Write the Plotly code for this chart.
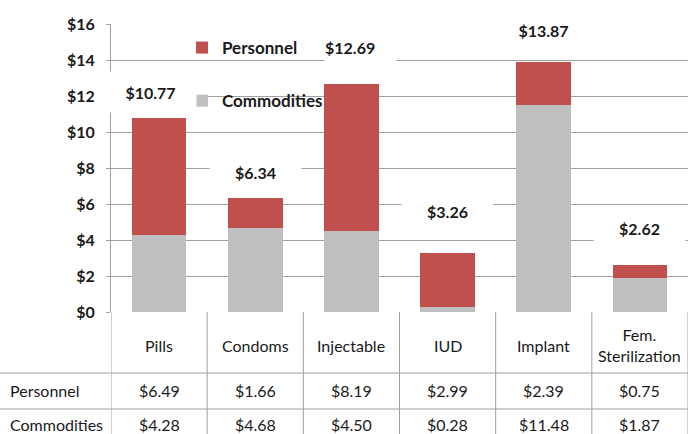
import plotly.graph_objects as go

# ---------------- data ----------------
categories = ["Pills", "Condoms", "Injectable", "IUD", "Implant", "Fem. Sterilization"]
personnel = [6.49, 1.66, 8.19, 2.99, 2.39, 0.75]
commodities = [4.28, 4.68, 4.50, 0.28, 11.48, 1.87]
totals = [10.77, 6.34, 12.69, 3.26, 13.87, 2.62]
tick_vals = [0, 2, 4, 6, 8, 10, 12, 14, 16]
tick_text = ["$0", "$2", "$4", "$6", "$8", "$10", "$12", "$14", "$16"]
row_names = ["Personnel", "Commodities"]

# ---------------- layout constants ----------------
W, H = 688, 434
ML, MT = 111, 24
PLOT_W = W - ML
PLOT_H = H - MT
TABLE_H = 122
split = TABLE_H / PLOT_H
label_y = [12.22, 7.78, 14.72, 5.61, 15.67, 4.67]
label_dx = [-9, 0, 9.5, 0, 0, 0]
label_w = [91, 91, 71, 91, 91, 91]
label_align = ["center", "center", "left", "center", "center", "center"]
FONT = "Lato"
RED = "#C0504D"
GREY = "#BFBFBF"
LINE = "#A0A0A0"
TXT = "#1a1a1a"

fig = go.Figure()
fig.add_trace(go.Bar(x=categories, y=commodities, name="Commodities",
                     marker=dict(color=GREY, line=dict(width=0)), width=0.57,
                     legendgroup="c", legendrank=2))
fig.add_trace(go.Bar(x=categories, y=personnel, name="Personnel",
                     marker=dict(color=RED, line=dict(width=0)), width=0.57,
                     legendgroup="p", legendrank=1))

annotations = []
# total labels
for i, (c, t) in enumerate(zip(categories, totals)):
    annotations.append(dict(x=c, y=label_y[i], xref="x", yref="y",
                            text=f"${t:.2f}", showarrow=False, xshift=label_dx[i],
                            align=label_align[i],
                            font=dict(family=FONT, size=16, color=TXT, weight="bold"),
                            bgcolor="white", width=label_w[i], height=40, borderpad=0))

# table header and rows
for c in categories:
    annotations.append(dict(x=c, y=89, xref="x", yref="y2",
                            text=c.replace("Fem. ", "Fem.<br>"), showarrow=False,
                            font=dict(family=FONT, size=16, color=TXT)))
row_y = [44, 10]
for r, vals in enumerate([personnel, commodities]):
    annotations.append(dict(x=-(ML - 8) / PLOT_W, y=row_y[r], xref="paper", yref="y2",
                            xanchor="left", text=row_names[r], showarrow=False,
                            font=dict(family=FONT, size=16, color=TXT)))
    for c, v in zip(categories, vals):
        annotations.append(dict(x=c, y=row_y[r], xref="x", yref="y2",
                                text=f"${v:.2f}", showarrow=False,
                                font=dict(family=FONT, size=16, color=TXT)))

shapes = []
# white panel behind the legend (hides gridlines, stays under bars)
shapes.append(dict(type="rect", xref="paper", yref="paper",
                   x0=(190 - ML) / PLOT_W, x1=(326 - ML) / PLOT_W,
                   y0=1 - (118 - MT) / PLOT_H, y1=1 - (30 - MT) / PLOT_H,
                   fillcolor="white", line=dict(width=0), layer="between"))
# vertical table lines
for k in range(len(categories) + 1):
    shapes.append(dict(type="line", xref="x", yref="y2", x0=k - 0.5, x1=k - 0.5,
                       y0=0, y1=TABLE_H, line=dict(color=LINE, width=1)))
# horizontal table lines
for yy in [61, 25]:
    shapes.append(dict(type="line", xref="paper", yref="y2", x0=-ML / PLOT_W, x1=1,
                       y0=yy, y1=yy, line=dict(color=LINE, width=1)))

fig.update_layout(
    width=W, height=H,
    margin=dict(l=ML, r=0, t=MT, b=0, pad=0, autoexpand=False),
    paper_bgcolor="white", plot_bgcolor="white",
    barmode="stack",
    font=dict(family=FONT, size=16, color=TXT),
    xaxis=dict(range=[-0.5, len(categories) - 0.5], showticklabels=False, automargin=False,
               showgrid=False, zeroline=False, ticks="", showline=False),
    yaxis=dict(domain=[split, 1], range=[0, 16], tickvals=tick_vals, ticktext=tick_text,
               automargin=False,
               showgrid=True, gridcolor=LINE, gridwidth=1, zeroline=False,
               showline=True, linecolor=LINE, linewidth=1,
               ticks="outside", ticklen=4, tickcolor=LINE, ticklabelstandoff=8,
               tickfont=dict(family=FONT, size=16, color=TXT, weight="bold")),
    yaxis2=dict(domain=[0, split], range=[0, TABLE_H], visible=False, anchor="x",
                automargin=False),
    legend=dict(x=(182 - ML) / PLOT_W, y=1 - (30 - MT) / PLOT_H, xanchor="left", yanchor="top",
                bgcolor="rgba(0,0,0,0)", traceorder="grouped", tracegroupgap=28,
                font=dict(family=FONT, size=17, color=TXT, weight="bold"),
                itemwidth=30, borderwidth=0),
    annotations=annotations,
    shapes=shapes,
    showlegend=True,
)

fig.write_html("out.html", config={"displayModeBar": False},
               post_script="document.body.style.margin='0px';")
